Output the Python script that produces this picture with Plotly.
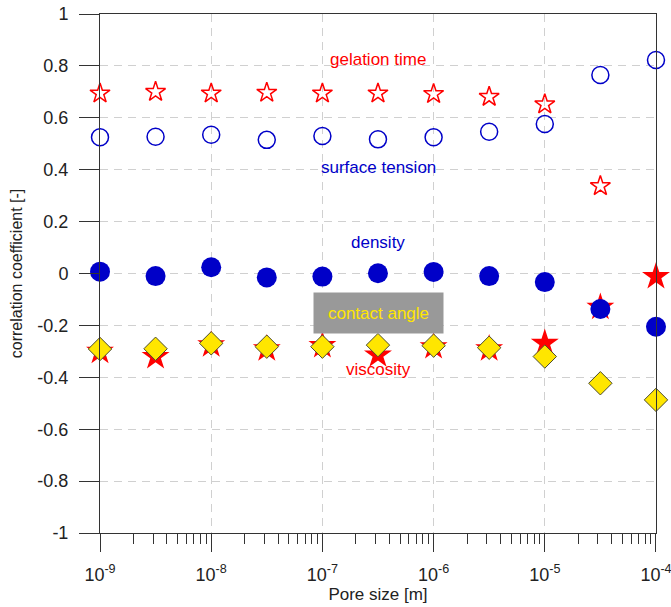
import plotly.graph_objects as go

# Pore sizes (m): half-decade steps from 1e-9 to 1e-4
pore_size = [1e-9, 3.16e-9, 1e-8, 3.16e-8, 1e-7, 3.16e-7, 1e-6, 3.16e-6, 1e-5, 3.16e-5, 1e-4]

# Correlation coefficients per fluid property
gelation_time = [0.694, 0.700, 0.694, 0.697, 0.694, 0.694, 0.692, 0.681, 0.652, 0.337, None]
surface_tension = [0.525, 0.527, 0.535, 0.515, 0.530, 0.517, 0.525, 0.546, 0.576, 0.765, 0.823]
density = [0.007, -0.010, 0.024, -0.015, -0.012, 0.001, 0.006, -0.010, -0.033, -0.137, -0.205]
viscosity = [-0.300, -0.320, -0.275, -0.290, -0.278, -0.314, -0.282, -0.290, -0.269, -0.130, -0.012]
contact_angle = [-0.291, -0.290, -0.269, -0.282, -0.282, -0.276, -0.278, -0.286, -0.320, -0.423, -0.487]

x_tick_vals = [1e-9, 1e-8, 1e-7, 1e-6, 1e-5, 1e-4]
x_tick_text = ["10<sup>-9</sup>", "10<sup>-8</sup>", "10<sup>-7</sup>",
               "10<sup>-6</sup>", "10<sup>-5</sup>", "10<sup>-4</sup>"]
y_tick_vals = [1, 0.8, 0.6, 0.4, 0.2, 0, -0.2, -0.4, -0.6, -0.8, -1]
y_tick_text = ["1", "0.8", "0.6", "0.4", "0.2", "0", "-0.2", "-0.4", "-0.6", "-0.8", "-1"]

RED = "#ff0000"
BLUE = "#0000c8"
YELLOW = "#ffe600"
FONT = "Liberation Sans, Arial, sans-serif"

fig = go.Figure()

fig.add_trace(go.Scatter(
    x=pore_size, y=gelation_time, mode="markers", name="gelation time", cliponaxis=False,
    marker=dict(symbol="star-open", size=15, color=RED, line=dict(color=RED, width=1.5)),
))
fig.add_trace(go.Scatter(
    x=pore_size, y=surface_tension, mode="markers", name="surface tension", cliponaxis=False,
    marker=dict(symbol="circle-open", size=17, color=BLUE, line=dict(color=BLUE, width=1.5)),
))
fig.add_trace(go.Scatter(
    x=pore_size, y=viscosity, mode="markers", name="viscosity", cliponaxis=False,
    marker=dict(symbol="star", size=21, color=RED, line=dict(width=0)),
))
fig.add_trace(go.Scatter(
    x=pore_size, y=density, mode="markers", name="density", cliponaxis=False,
    marker=dict(symbol="circle", size=20, color=BLUE, line=dict(width=0)),
))
fig.add_trace(go.Scatter(
    x=pore_size, y=contact_angle, mode="markers", name="contact angle", cliponaxis=False,
    marker=dict(symbol="diamond", size=18, color=YELLOW, line=dict(color="#4a4a30", width=1)),
))

label_font = dict(family=FONT, size=17)
annotations = [
    dict(x=-6.5, y=0.823, text="gelation time", font=dict(label_font, color=RED)),
    dict(x=-6.5, y=0.407, text="surface tension", font=dict(label_font, color=BLUE)),
    dict(x=-6.5, y=0.118, text="density", font=dict(label_font, color=BLUE)),
    dict(x=-6.5, y=-0.37, text="viscosity", font=dict(label_font, color=RED)),
    dict(x=-6.5, y=-0.152, text="contact angle",
         font=dict(family=FONT, size=17, color=YELLOW),
         bgcolor="#999999", width=127, height=38),
]
for a in annotations:
    a.update(xref="x", yref="y", showarrow=False)

fig.update_layout(
    width=671, height=607,
    margin=dict(l=100, r=15, t=14, b=74),
    paper_bgcolor="white", plot_bgcolor="white",
    showlegend=False,
    font=dict(family=FONT, size=17, color="#222222"),
    annotations=annotations,
    xaxis=dict(
        type="log", range=[-9.0001, -3.9999], automargin=False,
        tickvals=x_tick_vals, ticktext=x_tick_text,
        tickfont=dict(size=18), ticklabelstandoff=7, ticklabeloverflow="allow",
        ticks="outside", ticklen=18, tickcolor="#333333", tickwidth=1,
        minor=dict(ticks="outside", ticklen=10, tickcolor="#333333", dtick="D1", showgrid=False),
        showline=True, linecolor="#333333", linewidth=1, mirror=True,
        showgrid=True, gridcolor="#d0d0d0", griddash="8px,6px", gridwidth=1,
        zeroline=False,
        title=dict(text="Pore size [m]", font=dict(size=17), standoff=3),
    ),
    yaxis=dict(
        range=[-1, 1], automargin=False,
        tickvals=y_tick_vals, ticktext=y_tick_text,
        tickfont=dict(size=18), ticklabelstandoff=7,
        ticks="outside", ticklen=20, tickcolor="#333333", tickwidth=1,
        showline=True, linecolor="#333333", linewidth=1, mirror=True,
        showgrid=True, gridcolor="#d0d0d0", griddash="8px,6px", gridwidth=1,
        zeroline=False,
        title=dict(text="correlation coefficient [-]", font=dict(size=16), standoff=10),
    ),
)

fig.write_html("out.html")
